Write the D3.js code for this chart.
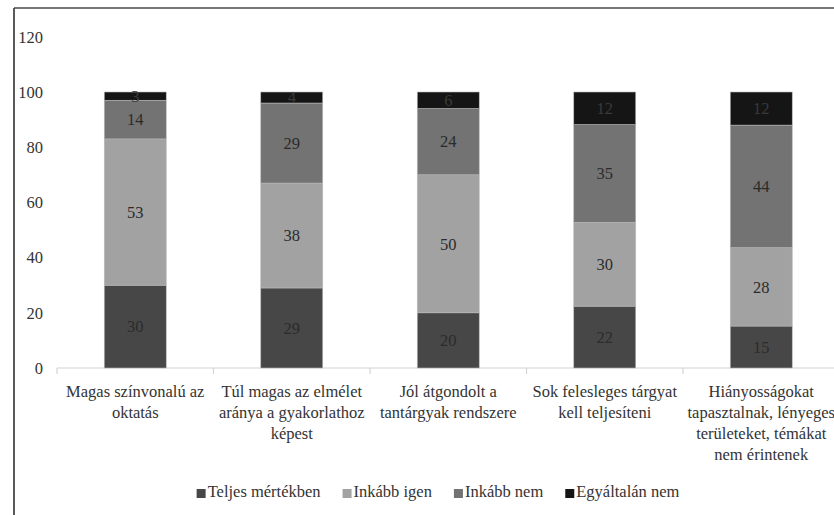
<!DOCTYPE html>
<html><head><meta charset="utf-8">
<script src="https://cdn.jsdelivr.net/npm/d3@7"></script>
<style>body{margin:0;background:#fff}svg{display:block}</style>
</head><body>
<svg id="c" width="834" height="515"></svg>
<script>
const categories = [
  ["Magas színvonalú az","oktatás"],
  ["Túl magas az elmélet","aránya a gyakorlathoz","képest"],
  ["Jól átgondolt a","tantárgyak rendszere"],
  ["Sok felesleges tárgyat","kell teljesíteni"],
  ["Hiányosságokat","tapasztalnak, lényeges","területeket, témákat","nem érintenek"]
];
const seriesNames = ["Teljes mértékben","Inkább igen","Inkább nem","Egyáltalán nem"];
const teljes = [30,29,20,22.4,15.2];
const inkabbIgen = [53,38,50,30.4,28.4];
const inkabbNem = [14,29,24,35.4,44.4];
const egyaltalan = [3,4,6,11.8,12.0];
const yTicks = [0,20,40,60,80,100,120];
const colors = ["#474747","#a2a2a2","#737373","#151515"];
const FONT = '"Liberation Serif"';
const FS = "16.5px";

const svg = d3.select("#c");
const series = [teljes,inkabbIgen,inkabbNem,egyaltalan];
const idx = categories.map((c,i)=>i);
const rows = idx.map(i=>{const o={i}; seriesNames.forEach((s,k)=>o[s]=series[k][i]); return o;});
const stack = d3.stack().keys(seriesNames)(rows);

const x = d3.scaleBand().domain(idx).range([57,839.5]).padding(0);
const y = d3.scaleLinear().domain([0,120]).range([368,36.8]);
const bw = x.bandwidth()*0.396;
const fmt = d3.format(".0f");

// frame
svg.append("line").attr("x1",14).attr("x2",14).attr("y1",8).attr("y2",515).attr("stroke","#5a5a5a").attr("stroke-width",2);
svg.append("line").attr("x1",14).attr("x2",834).attr("y1",8).attr("y2",8).attr("stroke","#4a4a4a").attr("stroke-width",1.5);

// y axis labels
const yAxis = d3.axisLeft(y).tickValues(yTicks).tickSize(0).tickPadding(0);
const ya = svg.append("g").attr("transform","translate(43,0)").call(yAxis);
ya.select(".domain").remove();
ya.selectAll("text").style("font-family",FONT).style("font-size",FS).attr("fill","#333");

// x axis
const xa = svg.append("g").attr("transform","translate(0,368)");
xa.append("line").attr("x1",57).attr("x2",840).attr("stroke","#d4d4d4").attr("stroke-width",1.2);
idx.concat([5]).forEach(i=>{
  const xx = 57 + i*x.step();
  xa.append("line").attr("x1",xx).attr("x2",xx).attr("y1",0).attr("y2",6).attr("stroke","#d4d4d4").attr("stroke-width",1.2);
});

// bars
stack.forEach((layer,k)=>{
  const g = svg.append("g").attr("fill",colors[k]);
  g.selectAll("rect").data(layer).join("rect")
    .attr("x",d=>x(d.data.i)+x.bandwidth()/2-bw/2)
    .attr("width",bw)
    .attr("y",d=>y(d[1]))
    .attr("height",d=>y(d[0])-y(d[1]))
    .attr("stroke","#b8b8b8").attr("stroke-width",0.6);
  svg.append("g").selectAll("text").data(layer).join("text")
    .attr("x",d=>x(d.data.i)+x.bandwidth()/2)
    .attr("y",d=>(y(d[0])+y(d[1]))/2)
    .attr("dy","0.35em")
    .attr("text-anchor","middle")
    .style("font-family",FONT).style("font-size",FS)
    .attr("fill", k===3 ? "#3a3a3a" : "#2b2b2b")
    .text(d=>fmt(d[1]-d[0]));
});

// category labels
categories.forEach((lines,i)=>{
  const t = svg.append("text").attr("text-anchor","middle")
    .style("font-family",FONT).style("font-size",FS).attr("fill","#333");
  lines.forEach((l,j)=>{
    t.append("tspan").attr("x",x(i)+x.bandwidth()/2).attr("y",397+j*21).text(l);
  });
});

// legend
const lg = svg.append("g");
let lx = 0;
const GAP = 22;
seriesNames.forEach((s,k)=>{
  const g = lg.append("g").attr("transform",`translate(${lx},0)`);
  g.append("rect").attr("x",0).attr("y",-8).attr("width",9).attr("height",9).attr("fill",colors[k]);
  const t = g.append("text").attr("x",11).attr("y",0)
    .style("font-family",FONT).style("font-size",FS).attr("fill","#333").text(s);
  const w = t.node().getComputedTextLength();
  lx += 11 + w + GAP;
});
const total = lx - GAP;
lg.attr("transform",`translate(${438 - total/2},497)`);
</script>
</body></html>
